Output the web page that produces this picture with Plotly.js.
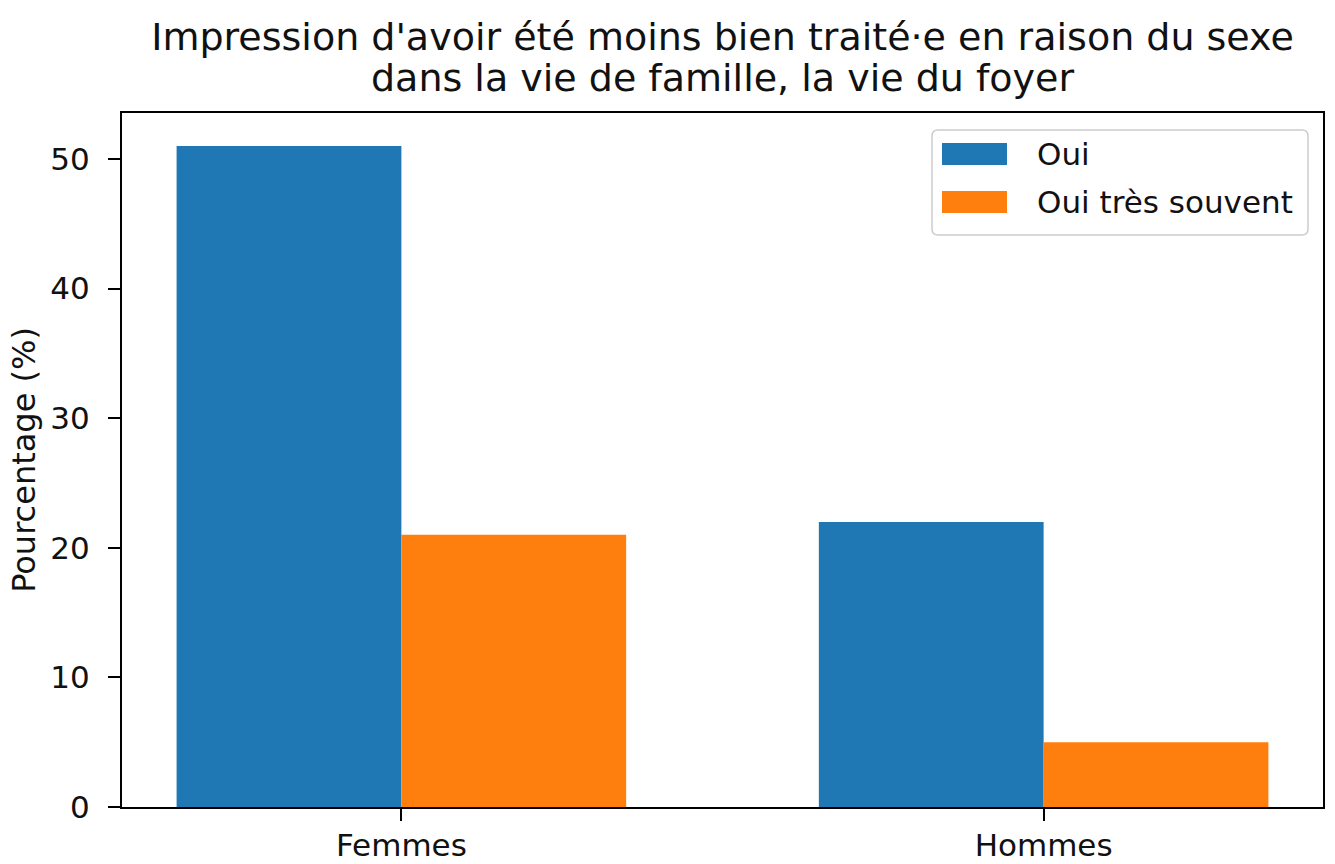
<!DOCTYPE html>
<html>
<head>
<meta charset="utf-8">
<script src="https://cdn.plot.ly/plotly-3.0.1.min.js"></script>
<style>
  html, body { margin: 0; padding: 0; background: #ffffff; }
  #chart { width: 1335px; height: 864px; }
</style>
</head>
<body>
<div id="chart"></div>
<script>
// ---- Data ----
const categories = ["Femmes", "Hommes"];
const seriesNames = ["Oui", "Oui très souvent"];
const ouiValues = [51, 22];
const tresSouventValues = [21, 5];
const yTickValues = [0, 10, 20, 30, 40, 50];
const titleLines = ["Impression d'avoir été moins bien traité·e en raison du sexe",
                    "dans la vie de famille, la vie du foyer"];
const yAxisTitle = "Pourcentage (%)";

// ---- Styling ----
const colors = ["#1f77b4", "#ff7f0e"];
const FONT = "DejaVu Sans, Liberation Sans, sans-serif";
const W = 1335, H = 864;
const M = { l: 122, r: 12, t: 113, b: 57 };
const PW = W - M.l - M.r, PH = H - M.t - M.b;
// pixel -> paper helpers (for the legend box and title lines, which are styling)
const px = x => (x - M.l) / PW;
const py = y => (H - M.b - y) / PH;

const traces = [
  { type: "bar", name: seriesNames[0], x: categories, y: ouiValues,
    marker: { color: colors[0], line: { width: 0 } }, showlegend: false, hoverinfo: "x+y+name" },
  { type: "bar", name: seriesNames[1], x: categories, y: tresSouventValues,
    marker: { color: colors[1], line: { width: 0 } }, showlegend: false, hoverinfo: "x+y+name" }
];

// Custom matplotlib-like legend
function roundedRect(x0, y0, x1, y1, r) {
  const rx = r / PW, ry = r / PH;
  const X0 = px(x0), X1 = px(x1), Y0 = py(y0), Y1 = py(y1);
  return `M${X0 + rx},${Y0} L${X1 - rx},${Y0} Q${X1},${Y0} ${X1},${Y0 - ry} ` +
         `L${X1},${Y1 + ry} Q${X1},${Y1} ${X1 - rx},${Y1} L${X0 + rx},${Y1} ` +
         `Q${X0},${Y1} ${X0},${Y1 + ry} L${X0},${Y0 - ry} Q${X0},${Y0} ${X0 + rx},${Y0} Z`;
}
const legendBox = { x0: 932, y0: 130, x1: 1308, y1: 235 };
const patchX = [942, 1007];
const patchRows = [[143, 165], [191, 213]];
const textX = 1035;
const textY = [154, 202];

const shapes = [
  { type: "path", xref: "paper", yref: "paper", path: roundedRect(legendBox.x0, legendBox.y0, legendBox.x1, legendBox.y1, 6),
    fillcolor: "rgba(255,255,255,0.8)", line: { color: "#cccccc", width: 1.5 }, layer: "above" }
];
const annotations = [];
seriesNames.forEach((name, i) => {
  shapes.push({ type: "rect", xref: "paper", yref: "paper",
    x0: px(patchX[0]), x1: px(patchX[1]), y0: py(patchRows[i][1]), y1: py(patchRows[i][0]),
    fillcolor: colors[i], line: { width: 0 }, layer: "above" });
  annotations.push({ xref: "paper", yref: "paper", x: px(textX), y: py(textY[i]),
    xanchor: "left", yanchor: "middle", text: name, showarrow: false,
    font: { family: FONT, size: 31, color: "#111" } });
});
// second title line
annotations.push({ xref: "paper", yref: "paper", x: 0.5, y: py(78), xanchor: "center", yanchor: "middle",
  text: titleLines[1], showarrow: false, font: { family: FONT, size: 38, color: "#111" } });

const layout = {
  width: W, height: H,
  margin: M,
  paper_bgcolor: "#ffffff", plot_bgcolor: "#ffffff",
  font: { family: FONT, size: 31, color: "#111" },
  title: { text: titleLines[0], x: (M.l + PW / 2) / W, xanchor: "center", xref: "container",
           y: 1 - 37 / H, yanchor: "middle", yref: "container",
           font: { family: FONT, size: 38, color: "#111" } },
  barmode: "group", bargap: 0.3, bargroupgap: 0,
  xaxis: {
    type: "category", range: [-0.435, 1.435],
    showline: true, mirror: true, linecolor: "#000", linewidth: 2,
    ticks: "outside", ticklen: 12, tickwidth: 2, tickcolor: "#000",
    showgrid: false, zeroline: false,
    ticklabelstandoff: -2,
    tickfont: { family: FONT, size: 31, color: "#111" }
  },
  yaxis: {
    range: [0, 53.55], tickvals: yTickValues, ticktext: yTickValues.map(String),
    showline: true, mirror: true, linecolor: "#000", linewidth: 2,
    ticks: "outside", ticklen: 12, tickwidth: 2, tickcolor: "#000",
    showgrid: false, zeroline: false,
    ticklabelstandoff: 12,
    tickfont: { family: FONT, size: 31, color: "#111" },
    title: { text: yAxisTitle, standoff: 5, font: { family: FONT, size: 32, color: "#111" } }
  },
  shapes: shapes,
  annotations: annotations,
  showlegend: false
};

Plotly.newPlot("chart", traces, layout, { displayModeBar: false, staticPlot: true });
</script>
</body>
</html>
